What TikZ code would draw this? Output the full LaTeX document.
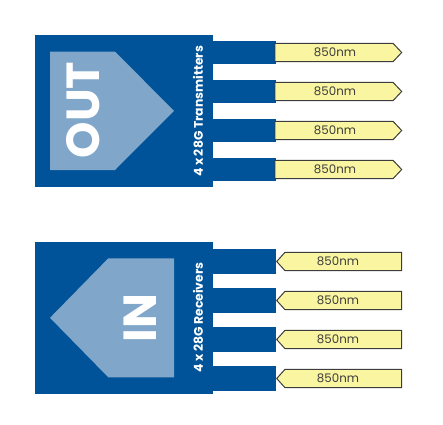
\documentclass[tikz,border=0pt]{standalone}
\usepackage{fontspec}
\setmainfont{Poppins}
\definecolor{modblue}{RGB}{0,83,152}
\definecolor{arrowblue}{RGB}{128,167,202}
\definecolor{tagyellow}{RGB}{250,245,160}
\definecolor{tagline}{RGB}{60,60,60}
\begin{document}
\begin{tikzpicture}[scale=0.025]
\tikzstyle{every node}+=[inner sep=0pt]
\tikzstyle{tag}=[fill=tagyellow,draw=tagline,line width=0.7pt,line join=miter]
\tikzstyle{tagtext}=[text=tagline,font=\fontsize{8.4}{9}\selectfont]
\tikzstyle{bigword}=[text=white,rotate=90,font=\fontsize{33}{34}\selectfont\bfseries]
\tikzstyle{sideword}=[text=white,rotate=90,font=\fontsize{8.8}{9}\selectfont\bfseries]
\useasboundingbox (0,0) rectangle (443,-424);
% transmitter module
\fill [modblue] (35,-35) rectangle (212.7,-186.7);
\fill [modblue] (212,-41) rectangle (276,-64);
\fill [modblue] (212,-80) rectangle (276,-103);
\fill [modblue] (212,-119) rectangle (276,-142);
\fill [modblue] (212,-158) rectangle (276,-181);
\fill [arrowblue] (50,-51.7) -- (115,-51.7) -- (174,-110.8) -- (115,-170) -- (50,-170) -- cycle;
\draw (83,-110) node [bigword] (out) {OUT};
\draw (198,-111.5) node [sideword] (tx) {4 x 28G Transmitters};
\draw [tag] (275,-43.3) -- (393,-43.3) -- (401.7,-52.5) -- (393,-61.7) -- (275,-61.7) -- cycle;
\draw (335,-52.5) node [tagtext] (txa) {850nm};
\draw [tag] (275,-82.3) -- (393,-82.3) -- (401.7,-91.5) -- (393,-100.7) -- (275,-100.7) -- cycle;
\draw (335,-91.5) node [tagtext] (txb) {850nm};
\draw [tag] (275,-121.3) -- (393,-121.3) -- (401.7,-130.5) -- (393,-139.7) -- (275,-139.7) -- cycle;
\draw (335,-130.5) node [tagtext] (txc) {850nm};
\draw [tag] (275,-160.3) -- (393,-160.3) -- (401.7,-169.5) -- (393,-178.7) -- (275,-178.7) -- cycle;
\draw (335,-169.5) node [tagtext] (txd) {850nm};
% receiver module
\fill [modblue] (35,-241.7) rectangle (212.7,-394);
\fill [modblue] (212,-249) rectangle (276,-274);
\fill [modblue] (212,-288) rectangle (276,-313);
\fill [modblue] (212,-327) rectangle (276,-352);
\fill [modblue] (212,-366) rectangle (276,-391);
\fill [arrowblue] (174,-258.3) -- (108.3,-258.3) -- (50,-317.8) -- (108.3,-377.3) -- (174,-377.3) -- cycle;
\draw (140,-318.3) node [bigword] (in) {IN};
\draw (198,-317.5) node [sideword] (rx) {4 x 28G Receivers};
\draw [tag] (401.7,-252.3) -- (285,-252.3) -- (276.7,-261.5) -- (285,-270.7) -- (401.7,-270.7) -- cycle;
\draw (338,-261.5) node [tagtext] (rxa) {850nm};
\draw [tag] (401.7,-291.3) -- (285,-291.3) -- (276.7,-300.5) -- (285,-309.7) -- (401.7,-309.7) -- cycle;
\draw (338,-300.5) node [tagtext] (rxb) {850nm};
\draw [tag] (401.7,-330.3) -- (285,-330.3) -- (276.7,-339.5) -- (285,-348.7) -- (401.7,-348.7) -- cycle;
\draw (338,-339.5) node [tagtext] (rxc) {850nm};
\draw [tag] (401.7,-369.3) -- (285,-369.3) -- (276.7,-378.5) -- (285,-387.7) -- (401.7,-387.7) -- cycle;
\draw (338,-378.5) node [tagtext] (rxd) {850nm};
\end{tikzpicture}
\end{document}
